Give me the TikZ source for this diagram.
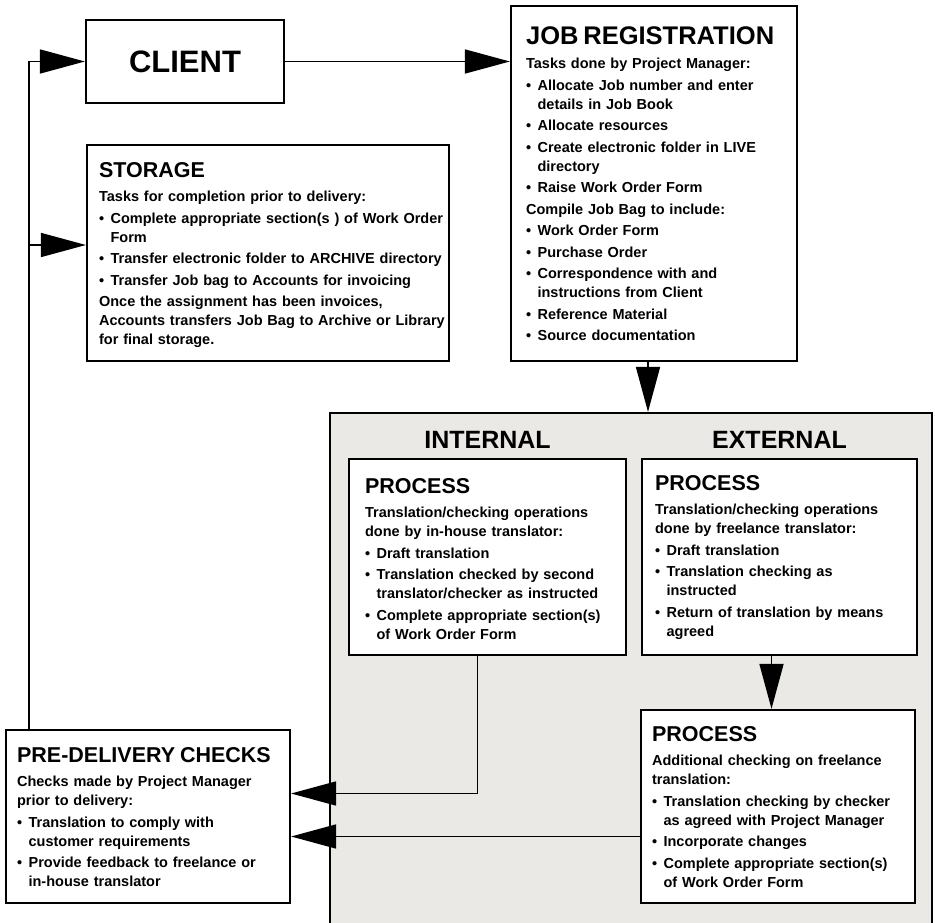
\documentclass[tikz,border=0pt]{standalone}
\usepackage{fontspec}
\setmainfont{Liberation Sans}
\usepackage{tikz}
\usetikzlibrary{arrows.meta, calc, positioning}
\definecolor{panel}{RGB}{235,233,230}
\newcommand{\hd}[2][21.5]{\setlength{\parskip}{2.5pt}{\fontsize{#1}{#1}\selectfont #2\par}\vspace{2.5pt}}
\newcommand{\itm}[1]{\hangindent=11.5pt\hangafter=1\noindent\makebox[11.5pt][l]{\textbullet}#1\par}
\tikzset{
  box/.style={draw, line width=2.2pt, fill=white, inner sep=0pt},
  txt/.style={text width=360pt, inner sep=0pt, anchor=base west, font=\fontsize{14.5}{19}\selectfont\bfseries},
  head/.style={inner sep=0pt, anchor=base, font=\fontsize{25}{25}\selectfont\bfseries},
  conn/.style={line width=1.6pt}
}
\begin{document}
\begin{tikzpicture}[x=1pt, y=-1pt, >={Triangle[length=45pt,width=24pt]}]
\useasboundingbox (0,0) rectangle (935,923);
\node[box, fill=panel, minimum width=602pt, minimum height=522pt] (panel) at (631,674) {};
\node[box, minimum width=198pt, minimum height=83pt, font=\fontsize{31}{31}\selectfont\bfseries] (client) at (185,61.5) {CLIENT};
\node[box, minimum width=286pt, minimum height=355pt] (job) at (654,183.5) {};
\node[box, minimum width=362pt, minimum height=216pt] (stor) at (268,253) {};
\node[box, minimum width=277pt, minimum height=196pt] (intp) at (487.5,557) {};
\node[box, minimum width=275pt, minimum height=196pt] (extp) at (779.5,557) {};
\node[box, minimum width=274pt, minimum height=193pt] (low) at (778,806.5) {};
\node[box, minimum width=284pt, minimum height=173pt] (pre) at (148,816.5) {};

\node[head] (intl) at ([yshift=9pt]intp.north) {INTERNAL};
\node[head] (extl) at ([yshift=9pt]extp.north) {EXTERNAL};

\node[txt] (jobtxt) at ([shift={(16pt,-40pt)}]job.north west) {\hd[25.5]{JOB REGISTRATION}
Tasks done by Project Manager:\par
\itm{Allocate Job number and enter\newline details in Job Book}
\itm{Allocate resources}
\itm{Create electronic folder in LIVE\newline directory}
\itm{Raise Work Order Form}
Compile Job Bag to include:\par
\itm{Work Order Form}
\itm{Purchase Order}
\itm{Correspondence with and\newline instructions from Client}
\itm{Reference Material}
\itm{Source documentation}};

\node[txt] (stortxt) at ([shift={(13pt,-34pt)}]stor.north west) {\hd{STORAGE}
Tasks for completion prior to delivery:\par
\itm{Complete appropriate section(s ) of Work Order\newline Form}
\itm{Transfer electronic folder to ARCHIVE directory}
\itm{Transfer Job bag to Accounts for invoicing}
Once the assignment has been invoices,\newline Accounts transfers Job Bag to Archive or Library\newline for final storage.\par};

\node[txt] (inttxt) at ([shift={(17pt,-36pt)}]intp.north west) {\hd{PROCESS}
Translation/checking operations\newline done by in-house translator:\par
\itm{Draft translation}
\itm{Translation checked by second\newline translator/checker as instructed}
\itm{Complete appropriate section(s)\newline of Work Order Form}};

\node[txt] (exttxt) at ([shift={(14pt,-33pt)}]extp.north west) {\hd{PROCESS}
Translation/checking operations\newline done by freelance translator:\par
\itm{Draft translation}
\itm{Translation checking as\newline instructed}
\itm{Return of translation by means\newline agreed}};

\node[txt] (lowtxt) at ([shift={(12pt,-33pt)}]low.north west) {\hd{PROCESS}
Additional checking on freelance\newline translation:\par
\itm{Translation checking by checker\newline as agreed with Project Manager}
\itm{Incorporate changes}
\itm{Complete appropriate section(s)\newline of Work Order Form}};

\node[txt] (pretxt) at ([shift={(12pt,-34pt)}]pre.north west) {\hd{PRE-DELIVERY CHECKS}
Checks made by Project Manager\newline prior to delivery:\par
\itm{Translation to comply with\newline customer requirements}
\itm{Provide feedback to freelance or\newline in-house translator}};

% connectors
\coordinate (loop) at ([xshift=24pt]pre.north west);
\coordinate (sin) at ([yshift=8pt]stor.west);
\coordinate (jb) at ([xshift=-6pt]job.south);
\coordinate (eb) at ([xshift=-8pt]extp.south);
\coordinate (ib) at ([xshift=-10pt]intp.south);
\coordinate (pin) at ([yshift=23pt]pre.east);
\coordinate (lo) at ([yshift=-30pt]low.west);
\draw[conn,->] (client) -- (client -| job.west);
\draw[conn,->] (loop) |- (client.west);
\draw[conn,->] (loop |- sin) -- (sin);
\draw[conn,->] (jb) -- (jb |- panel.north);
\draw[conn,->] (eb) -- (eb |- low.north);
\draw[conn,->] (ib) |- (pin);
\draw[conn,->] (lo) -- (lo -| pre.east);
\end{tikzpicture}
\end{document}
